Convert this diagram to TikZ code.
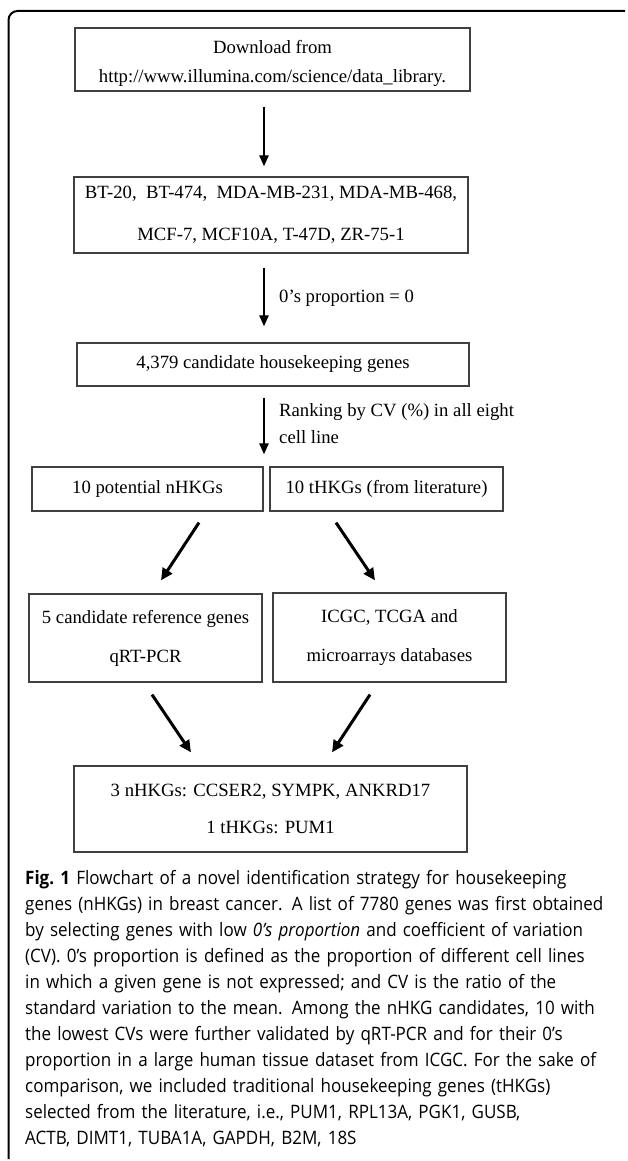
\documentclass[tikz,border=0pt]{standalone}
\usepackage{fontspec}
\setmainfont{Liberation Serif}
\newfontfamily\capfont[FakeStretch=0.92]{Open Sans}
\usetikzlibrary{arrows.meta,calc}
\newcommand\capline[2]{\makebox[#1][s]{#2}}
\begin{document}
\begin{tikzpicture}[x=1pt,y=-1pt,
  box/.style={draw=black!75, line width=1.2pt, inner sep=0pt, align=center,
    font=\fontsize{18.7}{22}\selectfont},
  arr/.style={line width=2pt, -{Triangle[length=11pt,width=9pt]}},
  darr/.style={line width=3pt, -{Triangle[length=12pt,width=11pt]}},
  lbl/.style={anchor=west, inner sep=0pt, align=left,
    font=\fontsize{18.7}{27}\selectfont},
  frame/.style={line width=2pt, rounded corners=9pt}]
\useasboundingbox (0,0) rectangle (627,1161);

% frame
\coordinate (ftr) at (625,11);
\coordinate (ftl) at (8.5,11);
\coordinate (fbl) at (8.5,1159);
\draw[frame] (ftr) -- (ftl) -- (fbl);

% boxes
\node[box, minimum width=395, minimum height=63] (b1) at (272.5,59.5)
  {\rule{0pt}{21pt}Download from\\[7pt]http://www.illumina.com/science/data\_library.};
\node[box, minimum width=394, minimum height=76] (b2) at (271,215)
  {BT-20,\ \ BT-474,\ \ MDA-MB-231, MDA-MB-468,\\[20pt]MCF-7, MCF10A, T-47D, ZR-75-1};
\node[box, minimum width=392, minimum height=43] (b3) at (273,364.5)
  {4,379 candidate housekeeping genes};
\node[box, minimum width=231, minimum height=44] (b4a) at (147.5,489)
  {10 potential nHKGs};
\node[box, minimum width=233, minimum height=44] (b4b) at (386.5,489)
  {10 tHKGs (from literature)};
\node[box, minimum width=233, minimum height=88] (b5a) at (145.5,638)
  {5 candidate reference genes\\[17pt]qRT-PCR};
\node[box, minimum width=233, minimum height=89] (b5b) at (389.5,637.5)
  {ICGC, TCGA and\\[17pt]microarrays databases};
\node[box, minimum width=393, minimum height=86] (b6) at (270.5,809)
  {3 nHKGs: CCSER2, SYMPK, ANKRD17\\[15pt]1 tHKGs: PUM1};

% vertical arrows
\coordinate (ax) at (264,0);
\draw[arr, shorten <=15pt, shorten >=10pt] (b1.south -| ax) -- (b2.north -| ax);
\draw[arr, shorten <=14pt, shorten >=16pt] (b2.south -| ax) -- (b3.north -| ax);
\draw[arr, shorten <=11pt, shorten >=12pt] (b3.south -| ax) -- (b4a.north -| ax);

% labels
\node[lbl] (l1) at (279,298) {0’s proportion = 0};
\node[lbl] (l2) at (279,423.5) {Ranking by CV (\%) in all eight\\cell line};

% diagonal arrows
\draw[darr] ([shift={(51.5,11)}]b4a.south) -- ([shift={(15.5,-13)}]b5a.north);
\draw[darr] ([shift={(-50.5,11)}]b4b.south) -- ([shift={(-14.5,-12)}]b5b.north);
\draw[darr] ([shift={(6.5,12)}]b5a.south) -- ([shift={(-79.5,-13)}]b6.north);
\draw[darr] ([shift={(-19.5,12)}]b5b.south) -- ([shift={(61.5,-13)}]b6.north);

% caption
\node[anchor=north west, inner sep=0pt, text width=590pt, align=left,
  font=\capfont\fontsize{18.5}{26}\selectfont] (cap) at (25,870) {%
\capline{590pt}{\textbf{Fig.\ 1} Flowchart of a novel identification strategy for housekeeping}\\
\capline{590pt}{genes (nHKGs) in breast cancer. A list of 7780 genes was first obtained}\\
\capline{590pt}{by selecting genes with low \textit{0’s proportion} and coefficient of variation}\\
\capline{590pt}{(CV). 0’s proportion is defined as the proportion of different cell lines}\\
in which a given gene is not expressed; and CV is the ratio of the\\
\capline{590pt}{standard variation to the mean. Among the nHKG candidates, 10 with}\\
the lowest CVs were further validated by qRT-PCR and for their 0’s\\
\capline{590pt}{proportion in a large human tissue dataset from ICGC. For the sake of}\\
\capline{590pt}{comparison, we included traditional housekeeping genes (tHKGs)}\\
\capline{540pt}{selected from the literature, i.e., PUM1, RPL13A, PGK1, GUSB,}\\
ACTB, DIMT1, TUBA1A, GAPDH, B2M, 18S};
\end{tikzpicture}
\end{document}
